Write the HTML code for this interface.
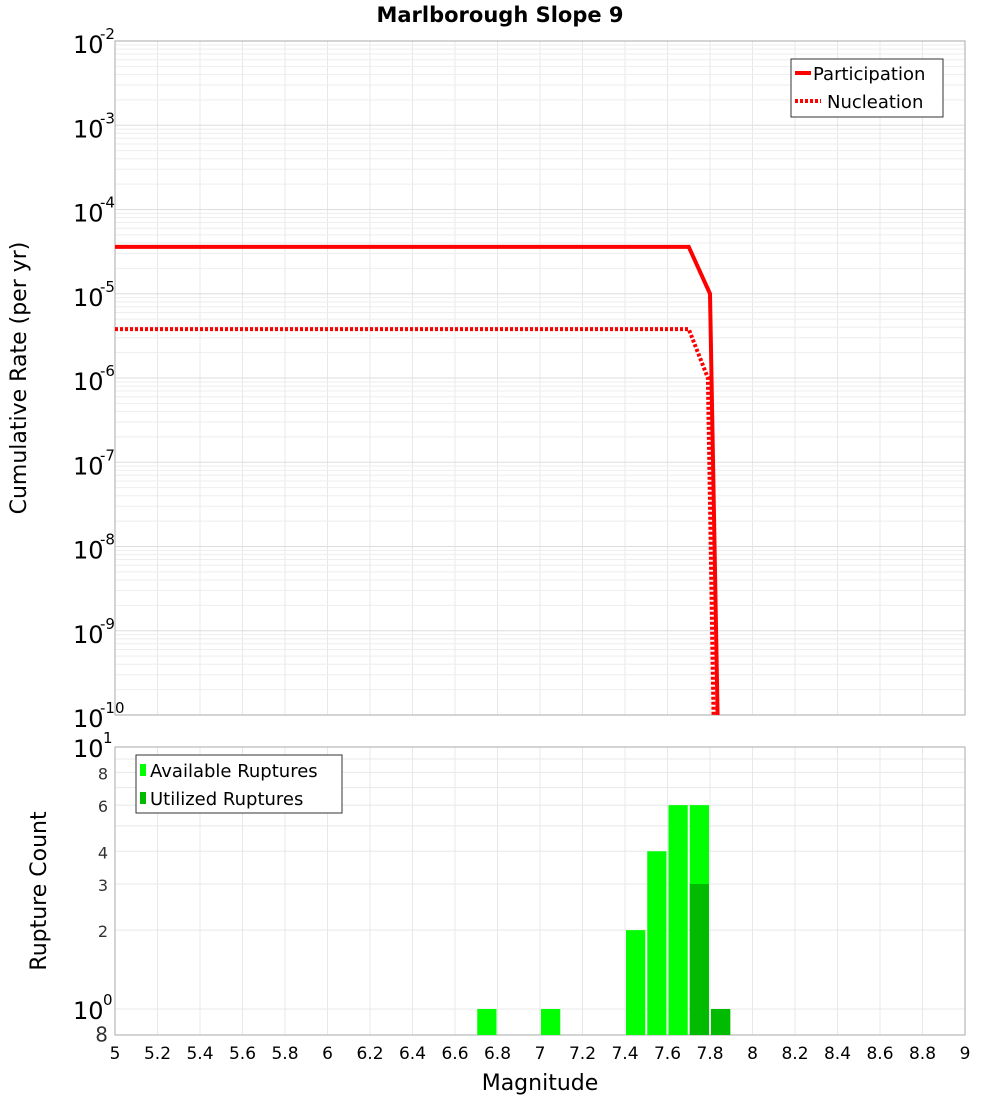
<!DOCTYPE html>
<html><head><meta charset="utf-8"><style>
body{margin:0;background:#fff;}
text{font-family:"DejaVu Sans","Liberation Sans",sans-serif;}
</style></head><body>
<svg id="c" width="1000" height="1100" xmlns="http://www.w3.org/2000/svg">
<defs>
<clipPath id="cpTop"><rect x="115" y="41" width="850" height="674"/></clipPath>
<clipPath id="cpBot"><rect x="115" y="747" width="850" height="288"/></clipPath>
</defs>
<text x="500" y="22" text-anchor="middle" font-size="21" font-weight="bold">Marlborough Slope 9</text>
<g id="topGrid"></g><g id="botGrid"></g>
<rect x="115" y="41" width="850" height="674" fill="none" stroke="#aaa"/>
<rect x="115" y="747" width="850" height="288" fill="none" stroke="#aaa"/>
<g id="bars" clip-path="url(#cpBot)"></g>
<g id="lines" clip-path="url(#cpTop)"></g>
<g id="axes"></g>
<text transform="translate(26,378) rotate(-90)" text-anchor="middle" font-size="22">Cumulative Rate (per yr)</text>
<text transform="translate(46,891) rotate(-90)" text-anchor="middle" font-size="22">Rupture Count</text>
<text x="540" y="1090" text-anchor="middle" font-size="22">Magnitude</text>
<g>
<rect x="791" y="59" width="152" height="58" fill="#fff" stroke="#333"/>
<line x1="795" y1="73" x2="811" y2="73" stroke="#f00" stroke-width="4"/>
<text x="813" y="80" font-size="18">Participation</text>
<line x1="795" y1="101" x2="821" y2="101" stroke="#f00" stroke-width="4" stroke-dasharray="3,2"/>
<text x="827" y="108" font-size="18">Nucleation</text>
</g>
<g>
<rect x="136" y="755" width="206" height="58" fill="#fff" stroke="#333"/>
<rect x="140" y="764" width="6" height="12" fill="#00ff00"/>
<text x="150" y="777" font-size="18">Available Ruptures</text>
<rect x="140" y="792" width="6" height="12" fill="#00bb00"/>
<text x="150" y="805" font-size="18">Utilized Ruptures</text>
</g>
</svg>
<script>
const partMags=[5,7.7,7.8,7.85];
const partRates=[3.6e-5,3.6e-5,1.0e-5,1e-12];
const nuclMags=[5,7.7,7.79,7.83];
const nuclRates=[3.8e-6,3.8e-6,1.0e-6,1e-12];
const binCenters=[6.75,7.05,7.45,7.55,7.65,7.75,7.85];
const availCounts=[1,1,2,4,6,6,1];
const utilCounts=[0,0,0,0,0,3,1];
const xTicks=["5","5.2","5.4","5.6","5.8","6","6.2","6.4","6.6","6.8","7","7.2","7.4","7.6","7.8","8","8.2","8.4","8.6","8.8","9"];
const topExps=[-2,-3,-4,-5,-6,-7,-8,-9,-10];
const botTicks=[8,6,4,3,2];
const NS="http://www.w3.org/2000/svg";
const X=m=>115+(m-5)*212.5;
const YT=v=>41+(-2-Math.log10(v))*84.25;
const YB=v=>1009-Math.log10(v)*262;
function mk(t,a,p){const e=document.createElementNS(NS,t);for(const k in a)e.setAttribute(k,a[k]);p.appendChild(e);return e;}
const tg=document.getElementById('topGrid'),bg=document.getElementById('botGrid'),ax=document.getElementById('axes');
xTicks.forEach(t=>{const x=X(+t);
 const l1=mk('line',{x1:x,x2:x,y1:41,y2:715,stroke:'#e8e8e8'},tg);
 
 
 const l2=mk('line',{x1:x,x2:x,y1:747,y2:1035,stroke:'#e8e8e8'},bg);
 
 
 const tx=mk('text',{x:x,y:1059,'text-anchor':'middle','font-size':17},ax);tx.textContent=t;
 
 
});
for(let e=-10;e<-2;e++){for(let k=1;k<10;k++){const y=YT(k*Math.pow(10,e));
 const l=mk('line',{x1:115,x2:965,y1:y,y2:y,stroke:k==1?'#ddd':'#eee'},tg);
 
 }}
topExps.forEach(e=>{const y=YT(Math.pow(10,e));
 const t=mk('text',{x:73,y:y+12,'font-size':24},ax);t.textContent='10';
 
 
 const s=mk('text',{x:100,y:y-2,'font-size':15},ax);s.textContent=String(e);
 
 });
for(let k=1;k<=10;k++){const y=YB(k);const l=mk('line',{x1:115,x2:965,y1:y,y2:y,stroke:'#e8e8e8'},bg);
 
 }
botTicks.concat([0.8]).forEach(v=>{const y=YB(v);const t=mk('text',{x:108,y:y+7,'text-anchor':'end','font-size':v==0.8?20:16,fill:'#333'},ax);t.textContent=v==0.8?'8':String(v);
 
 });
[[1,'0'],[10,'1']].forEach(([v,s])=>{const y=YB(v);const t=mk('text',{x:73,y:y+10,'font-size':24},ax);t.textContent='10';
 
 
 const e=mk('text',{x:103,y:y-4,'font-size':15},ax);e.textContent=s;
 
 });
const bars=document.getElementById('bars');
binCenters.forEach((c,i)=>{const x=X(c-0.05)+1,w=212.5*0.1-2;
 const a=mk('rect',{x:x,y:YB(availCounts[i]),width:w,height:1040-YB(availCounts[i]),fill:'#00ff00'},bars);
 
 
 if(utilCounts[i]>0){const u=mk('rect',{x:x,y:YB(utilCounts[i]),width:w,height:1040-YB(utilCounts[i]),fill:'#00bb00'},bars);
 
 }
});
const lg=document.getElementById('lines');
const pts=(ms,rs)=>ms.map((m,i)=>X(m)+','+YT(rs[i])).join(' ');
const p=mk('polyline',{points:pts(partMags,partRates),fill:'none',stroke:'#f00','stroke-width':4},lg);


const n=mk('polyline',{points:pts(nuclMags,nuclRates),fill:'none',stroke:'#f00','stroke-width':4,'stroke-dasharray':'3,2'},lg);


</script>
</body></html>
